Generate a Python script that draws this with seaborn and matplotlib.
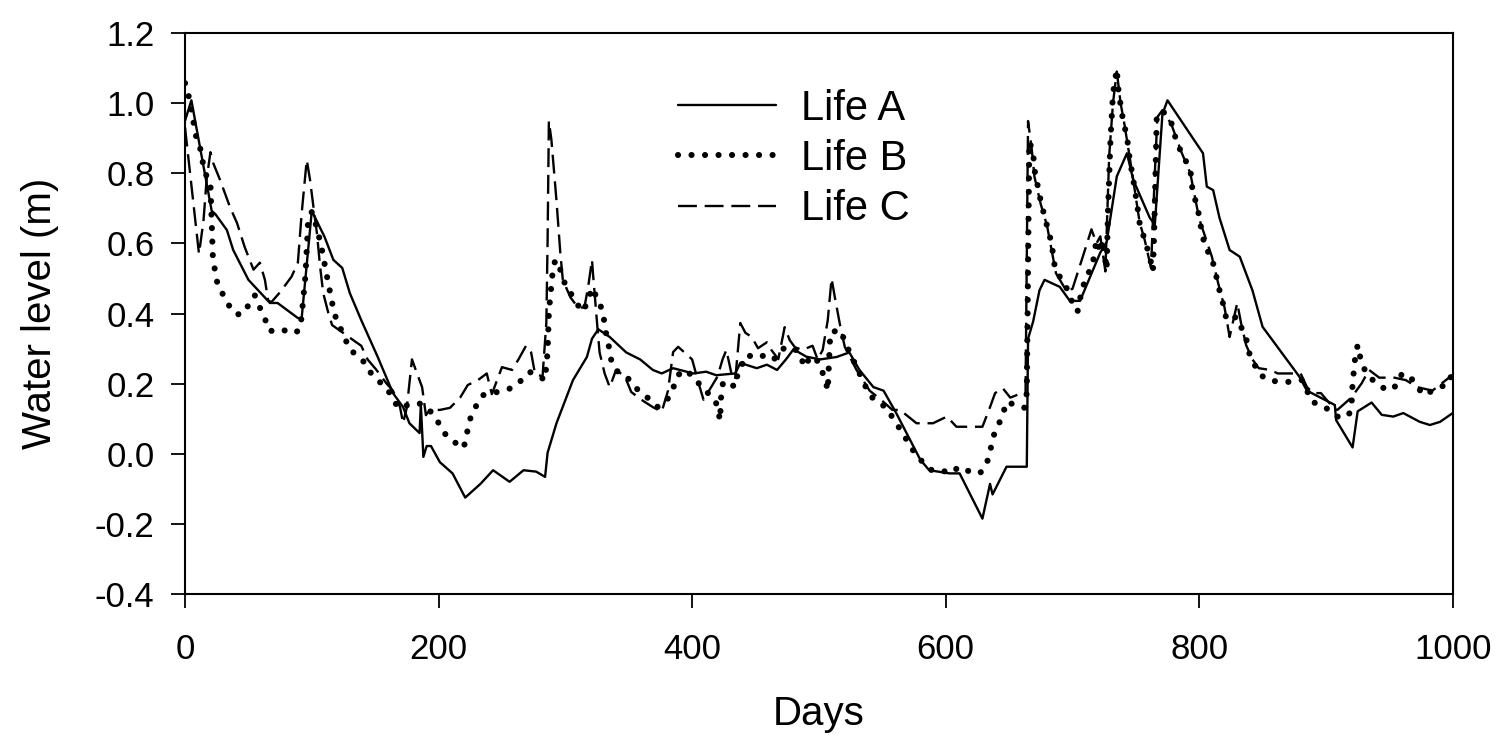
import matplotlib
matplotlib.use("Agg")
import matplotlib.pyplot as plt
from matplotlib.lines import Line2D
import seaborn as sns
import pandas as pd

# ---- data ----
days_a = [0, 5, 21, 24, 33, 38, 50, 67, 73, 89, 92, 100, 104, 110, 117, 124, 130, 139,
          152, 164, 172, 177, 185, 186, 188, 190.6, 194, 201, 211, 221, 233, 243, 256,
          267, 277, 284, 286, 293, 306, 317, 321, 326, 335, 348, 359, 369, 376, 385,
          401, 411, 419, 434, 438, 451, 459, 467, 474, 480, 490, 501, 514, 524, 532,
          543, 551, 561, 572, 580, 587, 603, 611, 629, 635, 637, 648, 662, 664, 665,
          669, 674, 678, 690, 698, 706, 722, 727, 735, 743, 748, 761, 765, 771, 775,
          795, 803, 806, 811, 816, 824, 832, 842, 850, 879, 885, 907, 908, 921, 925,
          936, 944, 953, 961, 974, 982, 990, 1000]
level_a = [0.95, 1.008, 0.693, 0.683, 0.638, 0.581, 0.496, 0.430, 0.430, 0.387, 0.387,
           0.693, 0.663, 0.619, 0.553, 0.530, 0.458, 0.381, 0.276, 0.173, 0.133, 0.087,
           0.059, 0.141, -0.009, 0.022, 0.022, -0.024, -0.056, -0.125, -0.086, -0.047,
           -0.080, -0.047, -0.051, -0.066, 0.003, 0.087, 0.210, 0.276, 0.328, 0.355,
           0.333, 0.289, 0.269, 0.239, 0.229, 0.244, 0.229, 0.234, 0.224, 0.229, 0.259,
           0.244, 0.254, 0.239, 0.269, 0.298, 0.277, 0.269, 0.276, 0.289, 0.239, 0.190,
           0.180, 0.116, 0.039, -0.017, -0.047, -0.056, -0.056, -0.185, -0.086, -0.116,
           -0.037, -0.037, -0.037, 0.328, 0.377, 0.466, 0.496, 0.476, 0.436, 0.436,
           0.574, 0.604, 0.791, 0.857, 0.781, 0.673, 0.653, 0.969, 1.008, 0.900, 0.857,
           0.762, 0.752, 0.673, 0.581, 0.562, 0.466, 0.362, 0.220, 0.180, 0.139, 0.096,
           0.018, 0.121, 0.146, 0.111, 0.106, 0.116, 0.091, 0.082, 0.091, 0.116]

days_b = [0, 3, 6.5, 9, 12, 14, 17, 20, 21, 22, 24, 26, 31.5, 35.5, 41, 47, 51, 55, 59,
          63, 65.5, 71, 77, 87, 91, 93, 95, 96, 97, 100, 102.5, 105, 108, 112, 116, 118,
          122, 126, 129, 135, 142, 146, 152, 159, 164, 168, 176, 184, 190.5, 196, 201,
          206, 213, 219, 222, 223, 226, 230, 235, 242, 252, 259, 265.5, 272, 278, 284,
          285, 286, 287, 288, 289, 290, 292, 296, 300, 304, 309, 313, 317, 321, 326,
          329, 331, 332.5, 335, 336.5, 341.5, 349, 355, 360, 367, 373, 381, 385, 389,
          393, 402, 407, 412.5, 418, 420, 422, 423, 424.5, 428, 434, 436, 443, 451, 458,
          464, 468, 473, 480, 484, 489, 493, 497, 501, 506, 507, 509, 511, 517, 521,
          526, 532, 540, 547, 553, 558, 566, 574, 580, 589, 597, 603, 611, 619, 627,
          632, 635, 637, 641, 645, 648, 655, 662, 664, 666, 669, 670, 675.5, 679, 683.5,
          686, 690, 695, 700, 704, 707, 710, 714, 716.5, 719, 722, 724, 727, 728, 730,
          732, 735, 736, 737, 740, 743, 745, 748, 751, 753, 757, 761, 763.5, 764.5, 765.5,
          766.5, 771, 778, 781, 786, 789, 793, 795, 799, 800, 803, 804, 810, 812, 815,
          817, 820, 821, 825, 829, 833, 837, 839, 843, 847, 854, 864, 873, 881, 885,
          889, 896, 902.5, 909, 917, 920, 921, 923, 925, 928, 932, 937, 944, 950, 956,
          960, 967, 972, 977.5, 984, 990, 997, 1000]
level_b = [1.057, 1.018, 0.949, 0.900, 0.870, 0.831, 0.791, 0.772, 0.663, 0.555, 0.515,
           0.476, 0.446, 0.417, 0.397, 0.402, 0.432, 0.452, 0.417, 0.387, 0.353, 0.348,
           0.353, 0.344, 0.358, 0.432, 0.510, 0.581, 0.658, 0.690, 0.663, 0.630, 0.581,
           0.505, 0.431, 0.397, 0.362, 0.333, 0.301, 0.282, 0.259, 0.233, 0.210, 0.187,
           0.158, 0.131, 0.139, 0.145, 0.133, 0.111, 0.082, 0.052, 0.032, 0.015, 0.039,
           0.077, 0.111, 0.139, 0.167, 0.173, 0.180, 0.190, 0.210, 0.233, 0.224, 0.210,
           0.254, 0.289, 0.402, 0.444, 0.481, 0.518, 0.553, 0.525, 0.481, 0.459, 0.430,
           0.405, 0.427, 0.473, 0.438, 0.410, 0.372, 0.333, 0.296, 0.259, 0.233, 0.217,
           0.190, 0.173, 0.154, 0.133, 0.158, 0.187, 0.224, 0.239, 0.220, 0.190, 0.173,
           0.154, 0.133, 0.095, 0.173, 0.205, 0.205, 0.190, 0.229, 0.282, 0.273, 0.282,
           0.269, 0.279, 0.304, 0.301, 0.289, 0.247, 0.277, 0.274, 0.253, 0.196, 0.180,
           0.345, 0.348, 0.353, 0.315, 0.276, 0.229, 0.167, 0.145, 0.133, 0.104, 0.059,
           0.011, -0.017, -0.047, -0.047, -0.056, -0.037, -0.051, -0.056, -0.032, 0.003,
           0.045, 0.077, 0.111, 0.148, 0.139, 0.131, 0.173, 0.890, 0.860, 0.811, 0.712,
           0.663, 0.601, 0.535, 0.505, 0.476, 0.431, 0.405, 0.459, 0.496, 0.525, 0.553,
           0.610, 0.574, 0.610, 0.525, 0.686, 0.895, 1.028, 1.097, 1.048, 1.018, 0.949,
           0.905, 0.845, 0.781, 0.712, 0.658, 0.610, 0.562, 0.520, 0.630, 0.801, 0.959,
           0.979, 0.944, 0.905, 0.857, 0.838, 0.811, 0.742, 0.703, 0.667, 0.624, 0.590,
           0.562, 0.525, 0.486, 0.446, 0.417, 0.391, 0.377, 0.391, 0.362, 0.330, 0.291,
           0.259, 0.229, 0.210, 0.205, 0.205, 0.210, 0.180, 0.148, 0.139, 0.125, 0.106,
           0.106, 0.125, 0.200, 0.273, 0.310, 0.259, 0.229, 0.210, 0.190, 0.180, 0.196,
           0.229, 0.217, 0.190, 0.167, 0.180, 0.190, 0.200, 0.240]

days_c = [0, 11, 14.5, 17, 20, 22, 27.6, 35.5, 41, 47, 54, 59, 63, 65.5, 68, 75, 84, 89,
          92, 96, 98.6, 101, 104, 106.5, 109, 113, 116, 125, 135, 139, 144, 151, 159,
          164, 169.6, 172, 175, 179, 183, 187, 190, 193, 201, 209, 217, 223, 231, 238,
          242, 250, 258, 263, 269, 273, 276, 282, 285, 286, 287, 289, 293, 296, 298,
          304, 310, 315, 318, 321, 322, 325, 327, 331, 335, 340, 347, 352, 360, 369,
          376, 381, 385, 389, 400, 406, 409, 420, 424, 427, 431, 434, 438, 442, 447,
          452, 459, 462.5, 468, 473, 477, 481, 487, 495, 499, 503, 507, 510, 512.6,
          517, 520.5, 529.7, 540, 549, 558, 564, 577, 590, 601, 608.5, 629, 635, 639,
          645, 651, 660, 663, 665, 668, 670, 675, 680, 687, 695, 700, 708, 715, 719,
          722, 726, 729, 732, 735, 738, 741, 745, 748, 753, 757, 762, 765, 767, 771,
          778, 786, 793, 800, 810, 815, 820, 824, 830, 833, 837, 842, 847, 856, 862,
          880, 885, 890, 896, 904, 909, 920, 928, 934, 942, 954, 963, 972, 984, 991,
          1000]
level_c = [0.93, 0.57, 0.663, 0.781, 0.860, 0.831, 0.781, 0.703, 0.658, 0.590, 0.525,
           0.545, 0.496, 0.438, 0.432, 0.461, 0.505, 0.545, 0.686, 0.838, 0.781, 0.712,
           0.630, 0.535, 0.458, 0.402, 0.367, 0.344, 0.318, 0.308, 0.269, 0.239, 0.200,
           0.180, 0.133, 0.087, 0.133, 0.269, 0.229, 0.190, 0.110, 0.125, 0.125, 0.131,
           0.160, 0.196, 0.210, 0.229, 0.170, 0.247, 0.239, 0.269, 0.308, 0.289, 0.229,
           0.220, 0.373, 0.610, 0.949, 0.895, 0.722, 0.574, 0.496, 0.446, 0.417, 0.417,
           0.476, 0.553, 0.505, 0.373, 0.289, 0.229, 0.190, 0.239, 0.220, 0.176, 0.154,
           0.133, 0.120, 0.180, 0.290, 0.305, 0.269, 0.190, 0.154, 0.220, 0.269, 0.296,
           0.229, 0.210, 0.373, 0.345, 0.333, 0.301, 0.318, 0.296, 0.270, 0.361, 0.324,
           0.304, 0.296, 0.308, 0.269, 0.296, 0.381, 0.500, 0.446, 0.361, 0.304, 0.239,
           0.180, 0.154, 0.125, 0.125, 0.087, 0.087, 0.106, 0.077, 0.077, 0.133, 0.173,
           0.187, 0.160, 0.173, 0.170, 0.949, 0.866, 0.791, 0.712, 0.650, 0.515, 0.466,
           0.470, 0.560, 0.640, 0.600, 0.620, 0.520, 0.850, 1.000, 1.090, 1.000, 0.940,
           0.850, 0.780, 0.660, 0.610, 0.530, 0.800, 0.960, 0.980, 0.940, 0.860, 0.800,
           0.670, 0.562, 0.486, 0.417, 0.333, 0.430, 0.373, 0.310, 0.269, 0.244, 0.239,
           0.229, 0.229, 0.190, 0.173, 0.173, 0.139, 0.125, 0.160, 0.200, 0.239, 0.217,
           0.217, 0.210, 0.190, 0.180, 0.200, 0.225]

series_names = ["Life A", "Life B", "Life C"]
x_ticks = [0, 200, 400, 600, 800, 1000]
y_ticks = [-0.4, -0.2, 0.0, 0.2, 0.4, 0.6, 0.8, 1.0, 1.2]

# ---- style ----
sns.set_theme(style="ticks")
plt.rcParams["font.family"] = ["Liberation Sans", "DejaVu Sans"]
plt.rcParams["axes.unicode_minus"] = False

fig = plt.figure(figsize=(15.02, 7.40), dpi=100)
ax = fig.add_axes([0.1232, 0.1973, 0.8440, 0.7581])

df_a = pd.DataFrame({"Days": days_a, "Level": level_a})
df_b = pd.DataFrame({"Days": days_b, "Level": level_b})
df_c = pd.DataFrame({"Days": days_c, "Level": level_c})

solid_lw = 1.7
dot_lw = 4.4
dot_style = (0, (0.01, 2.2))
dash_style = (0, (8, 3.3))

sns.lineplot(data=df_a, x="Days", y="Level", ax=ax, estimator=None, sort=False,
             color="black", linewidth=solid_lw)
sns.lineplot(data=df_b, x="Days", y="Level", ax=ax, estimator=None, sort=False,
             color="black", linewidth=dot_lw, linestyle=dot_style,
             dash_capstyle="round")
sns.lineplot(data=df_c, x="Days", y="Level", ax=ax, estimator=None, sort=False,
             color="black", linewidth=solid_lw, linestyle=dash_style)

ax.set_xlim(0, 1000)
ax.set_ylim(-0.4, 1.2)
ax.set_xticks(x_ticks)
ax.set_xticklabels([str(t) for t in x_ticks])
ax.set_yticks(y_ticks)
ax.set_yticklabels([f"{t:.1f}" for t in y_ticks])
ax.tick_params(axis="both", direction="out", length=10, width=1.3,
               labelsize=25, color="black", labelcolor="black")
ax.tick_params(axis="x", pad=18)
ax.tick_params(axis="y", pad=12)
for s in ax.spines.values():
    s.set_visible(True)
    s.set_color("black")
    s.set_linewidth(1.5)

ax.set_xlabel("Days", fontsize=29, color="black", labelpad=21)
ax.set_ylabel("Water level (m)", fontsize=29, color="black", labelpad=26)

handles = [
    Line2D([], [], color="black", linewidth=solid_lw),
    Line2D([], [], color="black", linewidth=dot_lw, linestyle=dot_style,
           dash_capstyle="round"),
    Line2D([], [], color="black", linewidth=solid_lw, linestyle=dash_style),
]
leg = ax.legend(handles, series_names, loc="center", frameon=False, fontsize=30,
                handlelength=2.35, handletextpad=0.6, labelspacing=0.25,
                bbox_to_anchor=(794 / 1502, 1 - 159 / 740),
                bbox_transform=fig.transFigure)
for t in leg.get_texts():
    t.set_color("black")

fig.savefig("out.png", dpi=100)
